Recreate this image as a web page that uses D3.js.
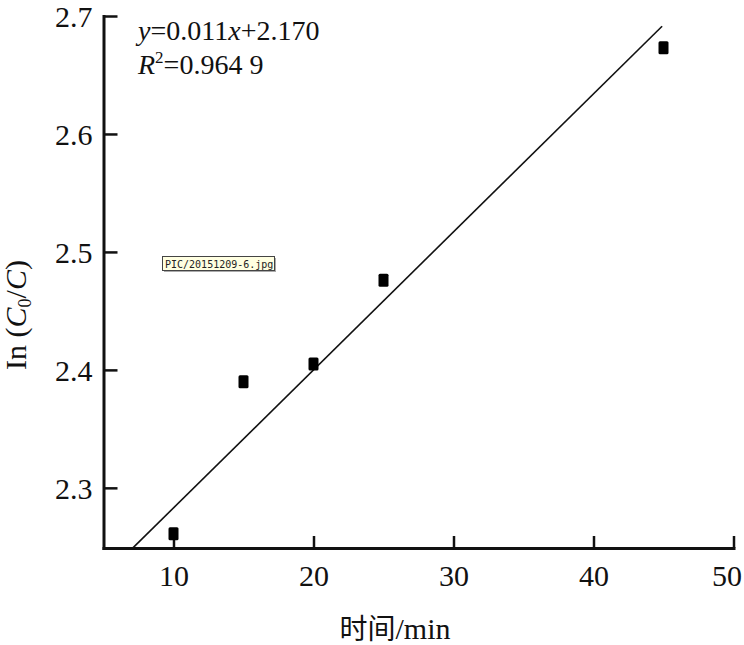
<!DOCTYPE html>
<html lang="en">
<head>
<meta charset="utf-8">
<script src="https://cdn.jsdelivr.net/npm/d3@7"></script>
<style>
  html, body { margin: 0; padding: 0; background: #fff; }
  svg { display: block; }
</style>
</head>
<body>
<svg id="chart" width="744" height="645"></svg>
<script>
// ---- data ----
const times = [10, 15, 20, 25, 45];
const lnValues = [2.261, 2.390, 2.405, 2.476, 2.673];
const xTicks = [10, 20, 30, 40, 50];
const yTicks = [2.3, 2.4, 2.5, 2.6, 2.7];
const xDomain = [5, 50];
const yDomain = [2.249, 2.7];
// fitted line as drawn
const fitSlope = 0.0117;
const fitIntercept = 2.166;
const fitRange = [7.1, 44.9];
const equationText = ["y", "=0.011", "x", "+2.170"];
const r2Text = "=0.964 9";

const SERIF = "'Liberation Serif'";
const MONO = "'DejaVu Sans Mono'";
const CJK = "'Noto Sans CJK SC'";

const svg = d3.select("#chart");
const x = d3.scaleLinear().domain(xDomain).range([103.5, 733.5]);
const y = d3.scaleLinear().domain(yDomain).range([548, 16]);

// axes
const yAxis = d3.axisLeft(y).tickValues(yTicks).tickFormat(d3.format(".1f"))
  .tickSizeInner(-14).tickSizeOuter(0).tickPadding(11);
const xAxis = d3.axisBottom(x).tickValues(xTicks).tickFormat(d3.format("d"))
  .tickSizeInner(-12).tickSizeOuter(0).tickPadding(17);

const gy = svg.append("g").attr("transform", `translate(${x(xDomain[0])},0)`).call(yAxis);
const gx = svg.append("g").attr("transform", `translate(0,${y(yDomain[0])})`).call(xAxis);

[gx, gy].forEach(g => {
  g.attr("font-family", null).attr("font-size", null);
  g.select(".domain").attr("stroke", "#111").attr("stroke-width", 3).attr("stroke-linecap", "square");
  g.selectAll(".tick line").attr("stroke", "#111").attr("stroke-width", 2.5);
  g.selectAll(".tick text").style("font-size", "30px").style("font-family", SERIF).attr("fill", "#111");
});
gy.selectAll(".tick text").attr("dy", "0.34em");
gx.selectAll(".tick text").filter(d => d === 50).attr("dx", -7);

// fit line
svg.append("line")
  .attr("x1", x(fitRange[0])).attr("y1", y(fitSlope * fitRange[0] + fitIntercept))
  .attr("x2", x(fitRange[1])).attr("y2", y(fitSlope * fitRange[1] + fitIntercept))
  .attr("stroke", "#111").attr("stroke-width", 1.6);

// points
const pts = times.map((t, i) => ({ t, v: lnValues[i] }));
svg.append("g").selectAll("rect").data(pts).join("rect")
  .attr("x", d => x(d.t) - 5).attr("y", d => y(d.v) - 6.5)
  .attr("width", 10).attr("height", 13).attr("rx", 1.5)
  .attr("fill", "#000");

// equation
const eq = svg.append("text").attr("x", 138).attr("y", 40)
  .style("font-size", "28px").style("font-family", SERIF).attr("fill", "#111");
eq.append("tspan").style("font-style", "italic").text(equationText[0]);
eq.append("tspan").text(equationText[1]);
eq.append("tspan").style("font-style", "italic").text(equationText[2]);
eq.append("tspan").text(equationText[3]);

const r2 = svg.append("text").attr("x", 138).attr("y", 74)
  .style("font-size", "28px").style("font-family", SERIF).attr("fill", "#111");
r2.append("tspan").style("font-style", "italic").text("R");
r2.append("tspan").style("font-size", "17px").attr("dy", -11).text("2");
r2.append("tspan").attr("dy", 11).text(r2Text);

// y axis title
const yt = svg.append("text").attr("transform", "translate(26,315) rotate(-90)")
  .attr("text-anchor", "middle").style("font-size", "30px").style("font-family", SERIF).attr("fill", "#111");
yt.append("tspan").text("In (");
yt.append("tspan").style("font-style", "italic").text("C");
yt.append("tspan").style("font-size", "18px").attr("dy", 5).text("0");
yt.append("tspan").attr("dy", -5).text("/");
yt.append("tspan").style("font-style", "italic").text("C");
yt.append("tspan").text(")");

// x axis title
const xt = svg.append("text").attr("x", 395).attr("y", 639).attr("text-anchor", "middle")
  .style("font-size", "30px").style("font-family", SERIF).attr("fill", "#111");
xt.append("tspan").style("font-family", CJK).style("font-size", "28px").text("时间");
xt.append("tspan").text("/min");

// watermark label
svg.append("rect").attr("x", 164).attr("y", 258).attr("width", 112).attr("height", 14).attr("fill", "#aaa");
svg.append("rect").attr("x", 162.5).attr("y", 256.5).attr("width", 112).attr("height", 14)
  .attr("fill", "#ffffe1").attr("stroke", "#444").attr("stroke-width", 1);
svg.append("text").attr("x", 165).attr("y", 267.5)
  .style("font-size", "10px").style("font-family", MONO)
  .attr("fill", "#222").text("PIC/20151209-6.jpg");
</script>
</body>
</html>
